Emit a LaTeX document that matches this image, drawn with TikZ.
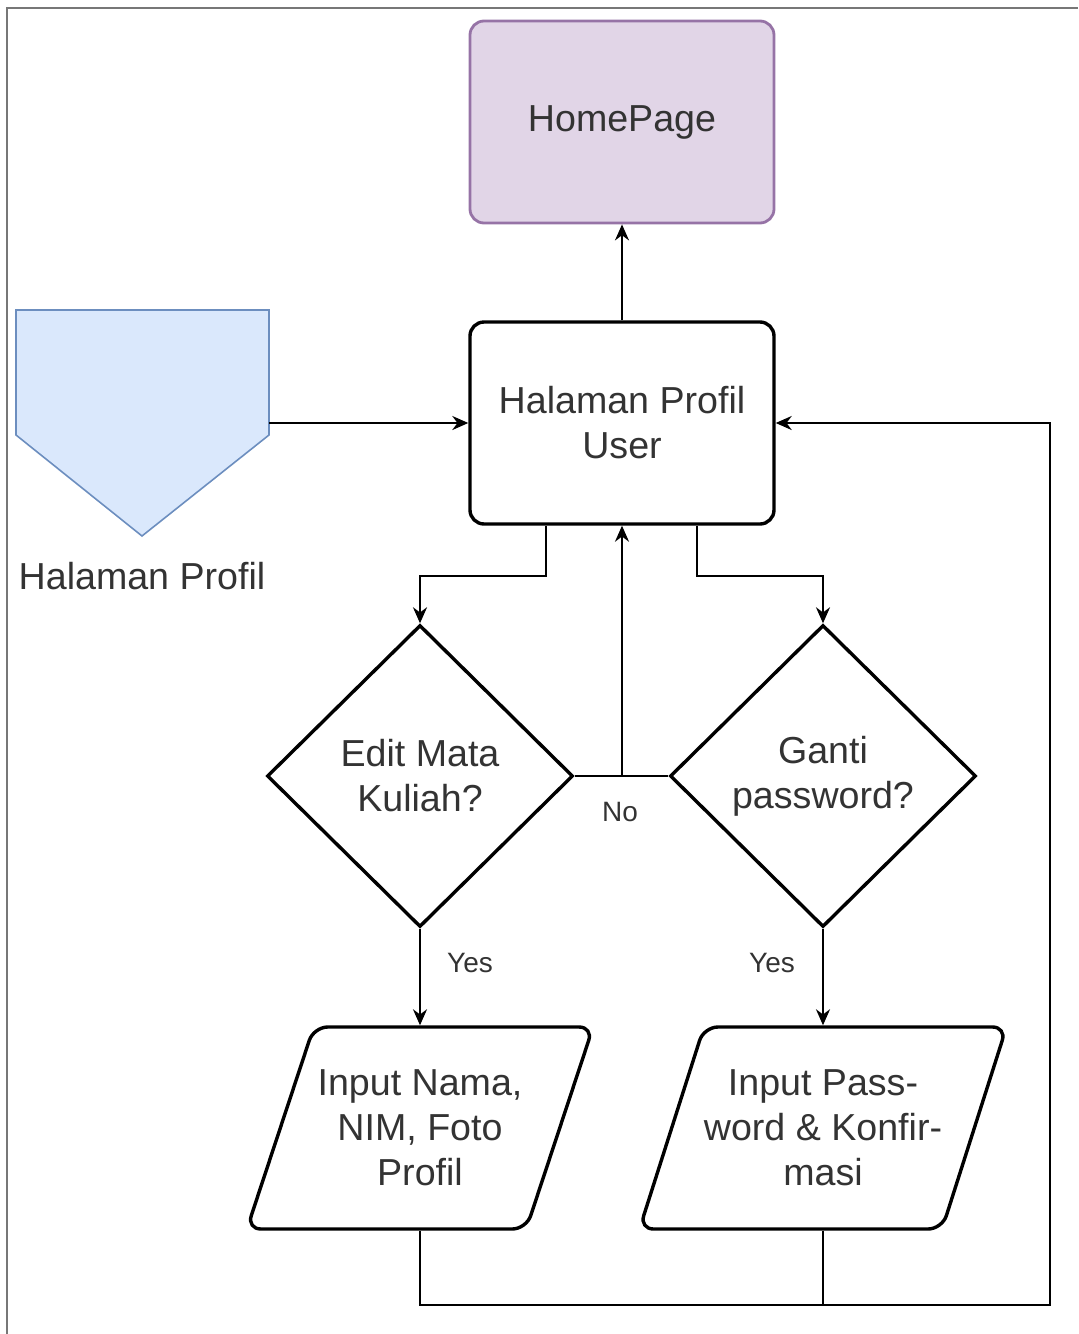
\documentclass[tikz,border=0pt]{standalone}
\usepackage{fontspec}
\setmainfont{Liberation Sans}
\usetikzlibrary{positioning,calc,shapes.geometric,arrows.meta}
\definecolor{txt}{HTML}{333333}
\definecolor{purfill}{HTML}{E1D5E7}
\definecolor{purline}{HTML}{9673A6}
\definecolor{bluefill}{HTML}{DAE8FC}
\definecolor{blueline}{HTML}{6C8EBF}
\definecolor{framegray}{HTML}{777777}

\begin{document}
\begin{tikzpicture}[x=0.5pt,y=-0.5pt,
  every node/.style={font=\fontsize{18.8}{22.5}\selectfont, text=txt, align=center},
  box/.style={draw, line width=1.7pt, rounded corners=7pt, minimum width=152pt, minimum height=101pt, inner sep=0pt},
  dec/.style={draw, line width=1.7pt, diamond, minimum width=153pt, minimum height=151pt, inner sep=0pt},
  io/.style={draw, line width=1.7pt, trapezium, trapezium left angle=61, trapezium right angle=119,
    trapezium stretches=true, rounded corners=7pt, minimum width=173.5pt, minimum height=101pt, inner sep=0pt},
  lbl/.style={font=\fontsize{14}{16}\selectfont},
  link/.style={line width=1.1pt, -{Stealth[length=8pt,width=7pt]}}]

\useasboundingbox (0,0) rectangle (1078,1334);
\draw[framegray, line width=1pt] (7,1334) -- (7,8) -- (1078,8);

% off-page connector
\draw[fill=bluefill, draw=blueline, line width=0.8pt]
  (16,310) -- (269,310) -- (269,435) -- (142,536) -- (16,435) -- cycle;
\coordinate (OFF) at (269,423);
\node (OFFLBL) at (142,576) {Halaman Profil};

\node[box, fill=purfill, draw=purline, line width=1.4pt] (HOME) at (622,122) {HomePage};
\node[box] (PROF) at (622,423) {Halaman Profil\\User};

\node[dec] (EDIT) at (420,776) {Edit Mata\\Kuliah?};
\node[dec] (GANTI) at (823,776) {Ganti\\password?};

\node[io] (INNIM) at (420,1128) {Input Nama,\\NIM, Foto\\Profil};
\node[io] (INPASS) at (823,1128) {Input Pass-\\word \& Konfir-\\masi};

\node[lbl] (NO) at (620,812) {No};
\node[lbl] (YES1) at (470,963) {Yes};
\node[lbl] (YES2) at (772,963) {Yes};

\coordinate (BACK) at (1050,1305);

\draw[link] (PROF.north) -- (HOME.south);
\draw[link] (OFF) -- (PROF.west);
\draw[link] ([xshift=-38pt]PROF.south) -- ++(0,50) -| (EDIT.north);
\draw[link] ([xshift=37.5pt]PROF.south) -- ++(0,50) -| (GANTI.north);
\draw[link] (EDIT.east) -- (PROF.south |- EDIT.east) -- (PROF.south);
\draw[line width=1.1pt] (GANTI.west) -- (PROF.south |- GANTI.west);
\draw[link] (EDIT.south) -- (EDIT.south |- INNIM.north);
\draw[link] (GANTI.south) -- (GANTI.south |- INPASS.north);
\draw[link] (EDIT.south |- INNIM.south) |- (BACK) |- (PROF.east);
\draw[line width=1.1pt] (GANTI.south |- INPASS.south) -- (GANTI.south |- BACK);

\end{tikzpicture}
\end{document}
